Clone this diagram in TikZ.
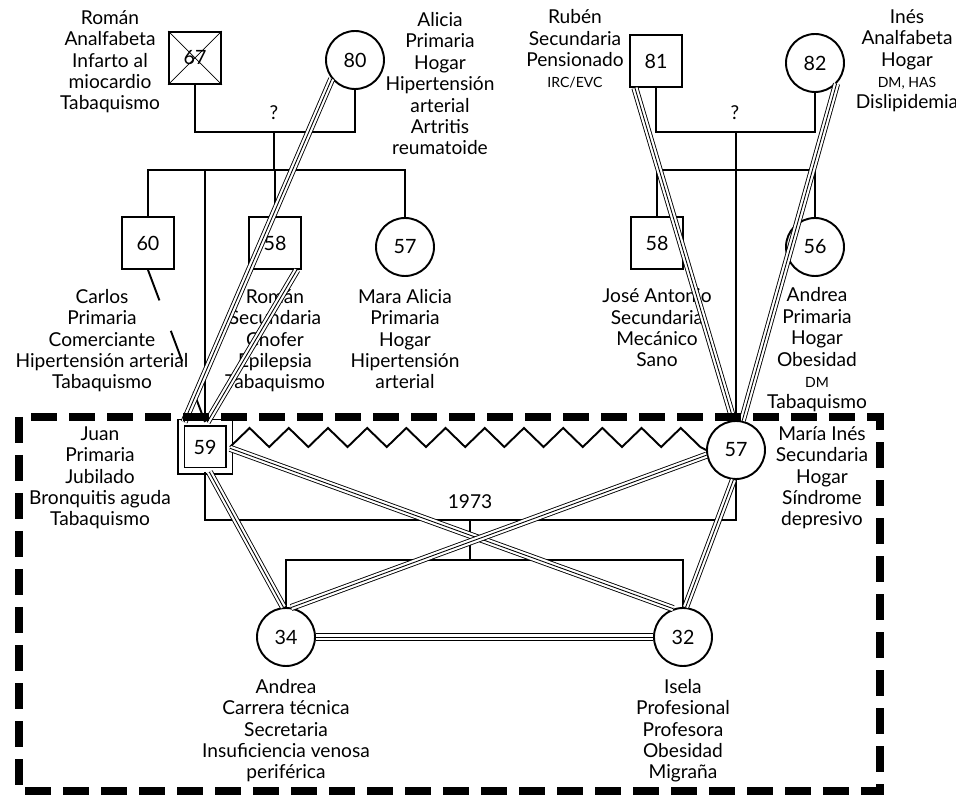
\documentclass[tikz,border=0pt]{standalone}
\usepackage{fontspec}
\setmainfont{Lato}
\usetikzlibrary{positioning}
\tikzstyle{male} = [draw, line width=1.1pt, minimum size=1.04cm, inner sep=0pt, font=\fontsize{11.2}{12}\selectfont]
\tikzstyle{female} = [circle, draw, line width=1.1pt, minimum size=1.16cm, inner sep=0pt, font=\fontsize{11.2}{12}\selectfont]
\tikzstyle{info} = [align=center, inner sep=0pt, anchor=base, font=\fontsize{10.9}{12.2}\selectfont]
\tikzstyle{rel} = [line width=1.1pt]
\tikzstyle{triple} = [draw=white, line width=3pt, preaction={draw=black, line width=4pt}, postaction={draw=black, line width=0.5pt}]
\newcommand{\sigla}[1]{{\fontsize{8}{12.2}\selectfont #1}}

\begin{document}
\begin{tikzpicture}[x=0.2mm, y=-0.2mm]
	\useasboundingbox (0,0) rectangle (956,801);
	% abuelos
	\node[male] (n67) at (195,58) {67};
	\node[female] (n80) at (355,60) {80};
	\node[male] (n81) at (656,61) {81};
	\node[female] (n82) at (815,63) {82};
	\draw[line width=0.4pt] (n67.north west) -- (n67.south east) (n67.north east) -- (n67.south west);
	% base = ultima linea
	\node[info] (t67) at (110,110) {Román\\Analfabeta\\Infarto al\\miocardio\\Tabaquismo};
	\node[info] (t80) at (440,155) {Alicia\\Primaria\\Hogar\\Hipertensión\\arterial\\Artritis\\reumatoide};
	\node[info] (t81) at (575,88) {Rubén\\Secundaria\\Pensionado\\\sigla{IRC/EVC}};
	\node[info] (t82) at (907,109) {Inés\\Analfabeta\\Hogar\\\sigla{DM, HAS}\\Dislipidemia};
	\node[info, anchor=center] (q1) at (274,113) {?};
	\node[info, anchor=center] (q2) at (735,113) {?};
	% hijos
	\node[male] (n60) at (148,243) {60};
	\node[male] (n58a) at (275,243) {58};
	\node[female] (n57a) at (405,247) {57};
	\node[male] (n58b) at (657,243) {58};
	\node[female] (n56) at (815,247) {56};
	\node[info] (t60) at (102,389) {Carlos\\Primaria\\Comerciante\\Hipertensión arterial\\Tabaquismo};
	\node[info] (t58a) at (275,389) {Román\\Secundaria\\Chofer\\Epilepsia\\Tabaquismo};
	\node[info] (t57a) at (405,389) {Mara Alicia\\Primaria\\Hogar\\Hipertensión\\arterial};
	\node[info] (t58b) at (657,367) {José Antonio\\Secundaria\\Mecánico\\Sano};
	\node[info] (t56) at (817,409) {Andrea\\Primaria\\Hogar\\Obesidad\\\sigla{DM}\\Tabaquismo};
	% pareja
	\node[male, double, double distance=0.1cm, minimum size=0.96cm] (j59) at (205,447) {59};
	\node[female] (m57) at (736,450) {57};
	\node[info] (tj) at (100,526) {Juan\\Primaria\\Jubilado\\Bronquitis aguda\\Tabaquismo};
	\node[info] (tm) at (822,526) {María Inés\\Secundaria\\Hogar\\Síndrome\\depresivo};
	\node[info, anchor=center] (yr) at (470,502) {1973};
	% nietas
	\node[female] (d34) at (286,637) {34};
	\node[female] (d32) at (683,637) {32};
	\node[info] (t34) at (286,779) {Andrea\\Carrera técnica\\Secretaria\\Insuficiencia venosa\\periférica};
	\node[info] (t32) at (683,779) {Isela\\Profesional\\Profesora\\Obesidad\\Migraña};

	\coordinate (u1) at (274,132);
	\coordinate (s1) at (274,170);
	\coordinate (u2) at (736,132);
	\coordinate (s2) at (736,170);
	\coordinate (u3) at (470,520);
	\coordinate (s3) at (470,560);

	\draw[rel] (n67.south) |- (u1) -| (n80.south);
	\draw[rel] (u1) -- (s1);
	\draw[rel] (n60.north) |- (s1) -| (n57a.north);
	\draw[rel] (n58a.north) -- (n58a.north |- s1);
	\draw[rel] (j59.north) -- (j59.north |- s1);
	\draw[rel] (n81.south) |- (u2) -| (n82.south);
	\draw[rel] (u2) -- (m57.north);
	\draw[rel] (n58b.north) |- (s2) -| (n56.north);
	\draw[rel] (j59.south) |- (u3) -| (m57.south);
	\draw[rel] (u3) -- (s3);
	\draw[rel] (d34.north) |- (s3) -| (d32.north);

	\draw[rel, dash pattern=on 6.5mm off 6.5mm] (n60.south) -- (j59.north);
	\draw[rel] (j59.east) \foreach \i in {1,...,12} { -- ++(19.6,-19) -- ++(19.6,19) } -- (m57.west);

	\draw[triple] (n80.219) -- (j59.130);
	\draw[triple] (n58a.-51) -- (j59.85);
	\draw[triple] (n81.-128) -- (m57.95);
	\draw[triple] (n82.-44) -- (m57.78);
	\draw[triple] (j59.-3) -- (d32.109);
	\draw[triple] (m57.190) -- (d34.80);
	\draw[triple] (j59.-80) -- (d34.95);
	\draw[triple] (m57.-95) -- (d32.85);
	\draw[triple] (d34.east) -- (d32.west);

	\draw[line width=4.2pt, dash pattern=on 5.2mm off 2.4mm] (19,417) rectangle (880,791);
\end{tikzpicture}
\end{document}
